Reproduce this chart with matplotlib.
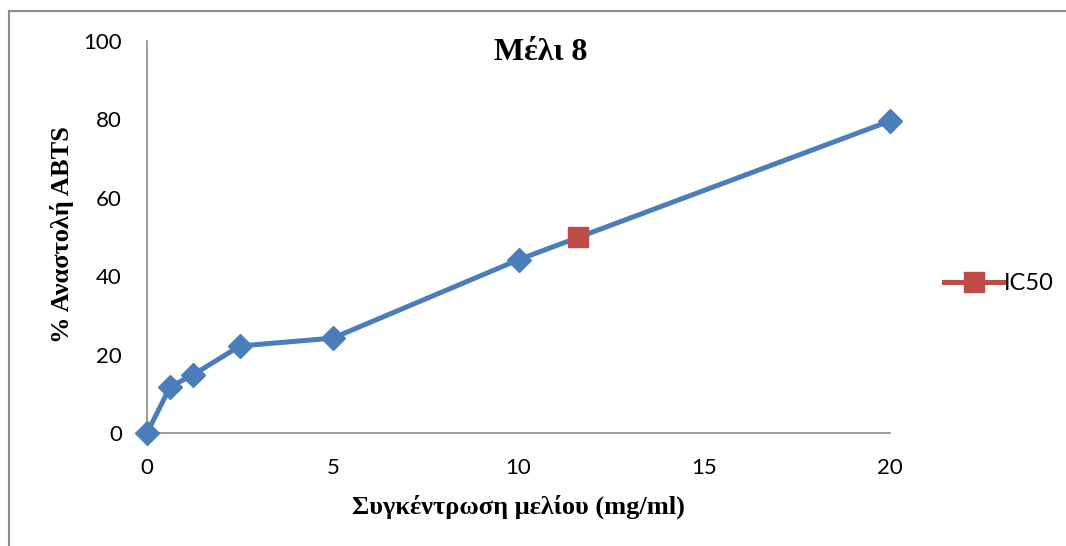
import matplotlib
matplotlib.use("Agg")
import matplotlib.pyplot as plt
from matplotlib.lines import Line2D

conc = [0, 0.625, 1.25, 2.5, 5, 10, 20]
inhibition = [0, 11.8, 14.9, 22.2, 24.2, 44.2, 79.6]
ic50_x = [11.6]
ic50_y = [50]
xticks = [0, 5, 10, 15, 20]
yticks = [0, 20, 40, 60, 80, 100]

W, H = 1066, 546
fig = plt.figure(figsize=(W / 100, H / 100), dpi=100)
ax = fig.add_axes([147 / W, 1 - 433 / H, (890 - 147) / W, (433 - 41) / H])

blue = "#4A7EBB"
red = "#BE4B48"
ax.plot(conc, inhibition, color=blue, lw=3.6, marker="D", ms=12, mfc=blue, mec=blue, zorder=3, clip_on=False)
ax.plot(ic50_x, ic50_y, color=red, lw=3.6, marker="s", ms=14, mfc=red, mec=red, zorder=4, label="IC50", clip_on=False)

ax.set_xlim(0, 20)
ax.set_ylim(0, 100)
ax.set_xticks(xticks)
ax.set_yticks(yticks)
tick_font = {"family": ["Lato", "DejaVu Sans"], "size": 16}
ax.set_xticklabels([str(t) for t in xticks], fontdict=tick_font)
ax.set_yticklabels([str(t) for t in yticks], fontdict=tick_font)
ax.tick_params(axis="x", length=0, pad=18)
ax.tick_params(axis="y", length=0, pad=18)
for s in ["top", "right"]:
    ax.spines[s].set_visible(False)
for s in ["left", "bottom"]:
    ax.spines[s].set_color("#8c8c8c")
    ax.spines[s].set_linewidth(1.2)
ax.patch.set_visible(False)

serif = ["Liberation Serif", "DejaVu Serif"]
fig.text(541 / W, 1 - 52 / H, "Μέλι 8", ha="center", va="center", family=serif, weight="bold", size=23)
fig.text(518 / W, 1 - 507 / H, "Συγκέντρωση μελίου (mg/ml)", ha="center", va="center", family=serif, weight="bold", size=19)
fig.text(62 / W, 1 - 235 / H, "% Αναστολή ABTS", ha="center", va="center", rotation=90, family=serif, weight="bold", size=19)

leg = ax.legend(loc="center left", bbox_to_anchor=(944 / W, 1 - 284 / H), bbox_transform=fig.transFigure,
                frameon=False, prop={"family": ["Lato", "DejaVu Sans"], "size": 17},
                handlelength=2.5, handletextpad=0.05, borderpad=0, borderaxespad=0)

# outer border (left and top visible)
fig.add_artist(Line2D([9 / W, 9 / W], [0, 1 - 11 / H], transform=fig.transFigure, color="#8c8c8c", lw=1.5))
fig.add_artist(Line2D([9 / W, 1], [1 - 11 / H, 1 - 11 / H], transform=fig.transFigure, color="#8c8c8c", lw=1.5))

fig.savefig("out.png", dpi=100)
